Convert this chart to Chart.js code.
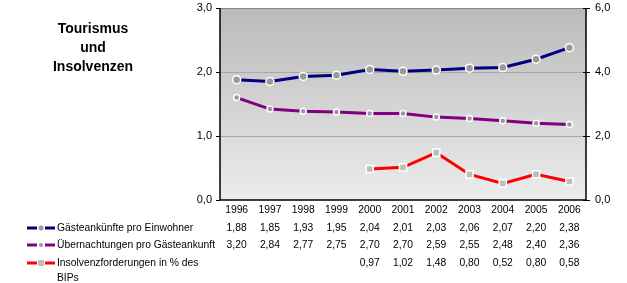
<!DOCTYPE html>
<html><head><meta charset="utf-8">
<script src="https://cdn.jsdelivr.net/npm/chart.js@4.4.1/dist/chart.umd.min.js"></script>
<style>html,body{margin:0;padding:0;background:#fff;}#wrap{width:627px;height:283px;position:relative;}</style>
</head><body><div id="wrap"><canvas id="c" width="627" height="283"></canvas></div>
<script>
const years = ['1996','1997','1998','1999','2000','2001','2002','2003','2004','2005','2006'];
const gaeste = [1.88,1.85,1.93,1.95,2.04,2.01,2.03,2.06,2.07,2.20,2.38];
const uebern = [3.20,2.84,2.77,2.75,2.70,2.70,2.59,2.55,2.48,2.40,2.36];
const insolv = [null,null,null,null,0.97,1.02,1.48,0.80,0.52,0.80,0.58];
const seriesNames = ['Gästeankünfte pro Einwohner','Übernachtungen pro Gästeankunft',['Insolvenzforderungen in % des','BIPs']];
const leftTicks = [0,1,2,3];
const rightTicks = [0,2,4,6];
const titleLines = ['Tourismus','und','Insolvenzen'];

const fmt = v => v.toFixed(2).replace('.', ',');
const fmt1 = v => v.toFixed(1).replace('.', ',');
const FONT = '"Liberation Sans", Arial, sans-serif';

const bgPlugin = {
  id:'bg',
  beforeDraw(chart){
    const {ctx, chartArea:a} = chart;
    const g = ctx.createLinearGradient(0,a.top,0,a.bottom);
    g.addColorStop(0,'#bababa');
    g.addColorStop(1,'#ececec');
    ctx.save();
    ctx.fillStyle = g;
    ctx.fillRect(a.left,a.top,a.right-a.left,a.bottom-a.top);
    ctx.strokeStyle='#888';ctx.lineWidth=1;
    ctx.beginPath();ctx.moveTo(a.left,a.top+0.5);ctx.lineTo(a.right,a.top+0.5);ctx.stroke();
    ctx.restore();
  },
  afterDraw(chart){
    const {ctx, chartArea:a, scales} = chart;
    const x = scales.x;
    ctx.save();
    ctx.strokeStyle='#000';ctx.lineWidth=1.5;
    ctx.beginPath();
    ctx.moveTo(a.left,a.top);ctx.lineTo(a.left,a.bottom);
    ctx.lineTo(a.right,a.bottom);ctx.lineTo(a.right,a.top);
    ctx.stroke();
    ctx.lineWidth=1;
    const yl = scales.yL, yr = scales.yR;
    leftTicks.forEach(t=>{const py=Math.round(yl.getPixelForValue(t))+0.5;ctx.beginPath();ctx.moveTo(a.left-4,py);ctx.lineTo(a.left,py);ctx.stroke();});
    rightTicks.forEach(t=>{const py=Math.round(yr.getPixelForValue(t))+0.5;ctx.beginPath();ctx.moveTo(a.right-3,py);ctx.lineTo(a.right+4,py);ctx.stroke();});
    ctx.fillStyle='#000';
    ctx.font='bold 14px '+FONT;
    ctx.textAlign='center';ctx.textBaseline='middle';
    titleLines.forEach((t,i)=>ctx.fillText(t,93,29+i*19));
    ctx.font='10.3px '+FONT;
    years.forEach((y,i)=>ctx.fillText(y,x.getPixelForValue(i),210));
    const rows=[gaeste,uebern,insolv];
    const rowY=[228,245,263];
    rows.forEach((r,ri)=>r.forEach((v,i)=>{if(v!==null)ctx.fillText(fmt(v),x.getPixelForValue(i),rowY[ri]);}));
    const ds = chart.data.datasets;
    ctx.textAlign='left';
    seriesNames.forEach((n,ri)=>{
      const y=rowY[ri];
      ctx.strokeStyle=ds[ri].borderColor;ctx.lineWidth=3;
      ctx.beginPath();ctx.moveTo(27,y);ctx.lineTo(37,y);ctx.moveTo(45,y);ctx.lineTo(55,y);ctx.stroke();
      ctx.fillStyle=ds[ri].pointBackgroundColor;
      if(ri===2){ctx.fillRect(38,y-3,6,6);}
      else{ctx.beginPath();ctx.arc(41,y,ri===0?2.5:2,0,Math.PI*2);ctx.fill();}
      ctx.fillStyle='#000';
      const lines = Array.isArray(n)?n:[n];
      lines.forEach((l,li)=>ctx.fillText(l,57,y+li*15));
    });
    ctx.restore();
  }
};

new Chart(document.getElementById('c'),{
  type:'line',
  data:{labels:years,datasets:[
    {label:seriesNames[0],data:gaeste,yAxisID:'yL',borderColor:'#000080',borderWidth:3,pointRadius:4,pointBackgroundColor:'#999999',pointBorderColor:'#ffffff',pointBorderWidth:1.5,tension:0},
    {label:seriesNames[1],data:uebern,yAxisID:'yR',borderColor:'#800080',borderWidth:3,pointRadius:3,pointBackgroundColor:'#999999',pointBorderColor:'#ffffff',pointBorderWidth:1.5,tension:0},
    {label:'Insolvenzforderungen in % des BIPs',data:insolv,yAxisID:'yR',borderColor:'#ff0000',borderWidth:3,pointStyle:'rect',pointRadius:5,pointBackgroundColor:'#bdbdbd',pointBorderColor:'#ffffff',pointBorderWidth:1.5,tension:0,spanGaps:false}
  ]},
  options:{
    responsive:false,animation:false,devicePixelRatio:1,
    layout:{padding:{top:8,bottom:83,left:0,right:0}},
    plugins:{legend:{display:false},tooltip:{enabled:false}},
    scales:{
      x:{type:'category',display:false,offset:true},
      yL:{position:'left',min:0,max:3,
        afterFit(s){s.width=220;s.paddingTop=0;s.paddingBottom=0;},
        ticks:{stepSize:1,padding:8,color:'#000',font:{family:FONT,size:11},callback:v=>fmt1(v)},
        grid:{drawTicks:false,color:c=>(c.tick&&(c.tick.value===1||c.tick.value===2))?'#a8a8a8':'rgba(0,0,0,0)'},
        border:{display:false}},
      yR:{position:'right',min:0,max:6,
        afterFit(s){s.width=41;s.paddingTop=0;s.paddingBottom=0;},
        ticks:{stepSize:2,padding:9,color:'#000',font:{family:FONT,size:11},callback:v=>fmt1(v)},
        grid:{display:false,drawTicks:false},
        border:{display:false}}
    }
  },
  plugins:[bgPlugin]
});
</script></body></html>
